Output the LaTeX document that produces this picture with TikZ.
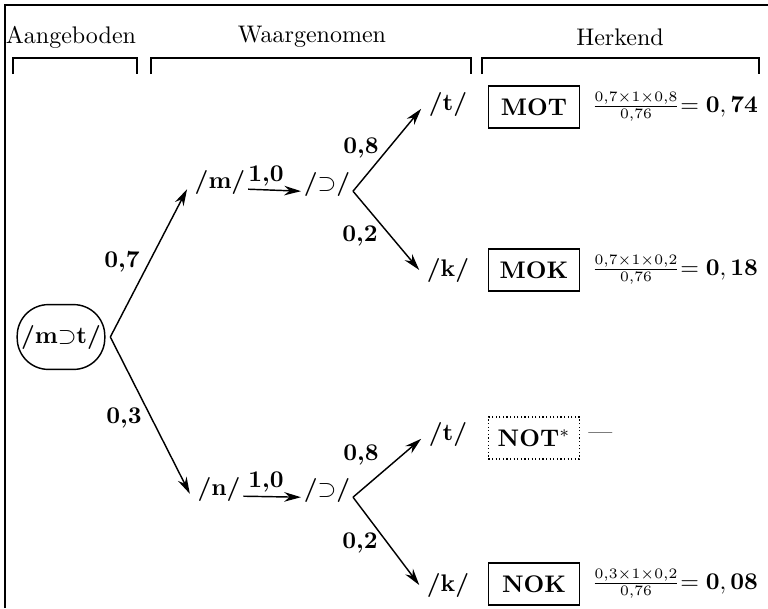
\documentclass[tikz,border=0pt]{standalone}
\usetikzlibrary{arrows.meta}
\begin{document}
\begin{tikzpicture}[x=0.4167pt,y=-0.4167pt,
  lab/.style={font=\bfseries, inner sep=1pt},
  ph/.style={font=\bfseries, inner sep=1pt},
  hdr/.style={font=\normalsize, inner sep=1pt},
  outbox/.style={draw, font=\bfseries, minimum width=38pt, minimum height=17.5pt, inner sep=2pt, line width=0.5pt},
  dotbox/.style={outbox, densely dotted},
  frac/.style={font=\small, inner sep=1pt},
  arr/.style={-{Stealth[length=7pt,width=4pt]}, line width=0.6pt},
  brk/.style={line width=0.6pt},
  oval/.style={draw, rounded corners=13pt, minimum width=36.5pt, minimum height=27pt, inner sep=1pt, line width=0.6pt, font=\bfseries}]
\useasboundingbox (0,0) rectangle (768,608);
% frame
\draw[line width=0.6pt] (5,608) -- (5,5) -- (768,5);
% headers
\node[hdr] (h1) at (71,37) {Aangeboden};
\node[hdr] (h2) at (312,37) {Waargenomen};
\node[hdr] (h3) at (620,37) {Herkend};
% brackets
\draw[brk] (13,74) -- (13,58) -- (137,58) -- (137,74);
\draw[brk] (151,74) -- (151,58) -- (471,58) -- (471,74);
\draw[brk] (482,74) -- (482,58) -- (759,58) -- (759,74);
% source
\node[oval] (e) at (61,337) {/m$\supset$t/};
\coordinate (v0) at ([xshift=2pt]e.east);
% upper branch
\node[ph] (m) at (220,182) {/m/};
\node[ph] (o1) at (327,184) {/$\supset$/};
\node[ph] (t1) at (448,104) {/t/};
\node[ph] (k1) at (448,270) {/k/};
\coordinate (v1) at ([yshift=-3pt]o1.east);
\draw[arr] (v0) -- ([xshift=-2pt,yshift=-3pt]m.west);
\draw[arr] ([yshift=-3pt]m.east) -- ([yshift=-3pt]o1.west);
\draw[arr] (v1) -- ([xshift=-2pt,yshift=-2pt]t1.west);
\draw[arr] (v1) -- ([xshift=-2pt]k1.west);
\node[lab] (p07) at (122,262) {0,7};
\node[lab] (p10a) at (266,176) {1,0};
\node[lab] (p08a) at (361,148) {0,8};
\node[lab] (p02a) at (360,236) {0,2};
% lower branch
\node[ph] (n) at (219,489) {/n/};
\node[ph] (o2) at (327,490) {/$\supset$/};
\node[ph] (t2) at (448,434) {/t/};
\node[ph] (k2) at (448,585) {/k/};
\coordinate (v2) at ([yshift=-3pt]o2.east);
\draw[arr] (v0) -- ([xshift=-2pt,yshift=-2pt]n.west);
\draw[arr] ([yshift=-3pt]n.east) -- ([yshift=-3pt]o2.west);
\draw[arr] (v2) -- ([xshift=-2pt,yshift=-2pt]t2.west);
\draw[arr] (v2) -- ([xshift=-2pt]k2.west);
\node[lab] (p03) at (124,418) {0,3};
\node[lab] (p10b) at (266,482) {1,0};
\node[lab] (p08b) at (361,455) {0,8};
\node[lab] (p02b) at (360,543) {0,2};
% outcomes
\node[outbox] (mot) at (534,107) {MOT};
\node[frac] (f1) at (636,107) {$\frac{0{,}7\times1\times0{,}8}{0{,}76}$};
\node[anchor=west, inner sep=0pt] (r1) at (680,107) {$=\mathbf{0,74}$};
\node[outbox] (mok) at (534,270) {MOK};
\node[frac] (f2) at (636,270) {$\frac{0{,}7\times1\times0{,}2}{0{,}76}$};
\node[anchor=west, inner sep=0pt] (r2) at (680,270) {$=\mathbf{0,18}$};
\node[dotbox] (not) at (534,438) {NOT$^*$};
\node[anchor=west, inner sep=0pt] (r3) at (588,436) {---};
\node[outbox] (nok) at (534,584) {NOK};
\node[frac] (f4) at (636,584) {$\frac{0{,}3\times1\times0{,}2}{0{,}76}$};
\node[anchor=west, inner sep=0pt] (r4) at (680,584) {$=\mathbf{0,08}$};
\end{tikzpicture}
\end{document}
